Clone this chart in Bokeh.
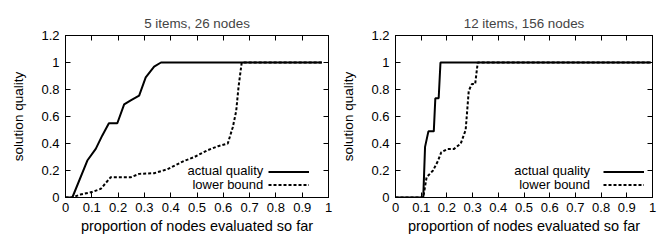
from bokeh.plotting import figure
from bokeh.layouts import row
from bokeh.models import (Range1d, FixedTicker, LinearAxis, Legend, LegendItem, Label)
from bokeh.embed import file_html
from bokeh.resources import INLINE

# ---- data ----
titles = ["5 items, 26 nodes", "12 items, 156 nodes"]

left_actual_x = [0, 0.026, 0.083, 0.115, 0.14, 0.165, 0.197, 0.223, 0.248, 0.28, 0.305, 0.337, 0.363, 0.975]
left_actual_y = [0, 0, 0.274, 0.36, 0.46, 0.55, 0.55, 0.69, 0.72, 0.755, 0.89, 0.97, 1.0, 1.0]

left_lower_x = [0, 0.026, 0.057, 0.10, 0.134, 0.172, 0.248, 0.28, 0.337, 0.388, 0.45, 0.49, 0.54,
                0.58, 0.617, 0.636, 0.649, 0.658, 0.67, 0.975]
left_lower_y = [0, 0, 0.022, 0.04, 0.064, 0.15, 0.15, 0.175, 0.18, 0.21, 0.27, 0.30, 0.35,
                0.38, 0.40, 0.52, 0.64, 0.82, 1.0, 1.0]

right_actual_x = [0, 0.108, 0.115, 0.128, 0.149, 0.155, 0.168, 0.175, 0.994]
right_actual_y = [0, 0, 0.375, 0.49, 0.49, 0.735, 0.735, 1.0, 1.0]

right_lower_x = [0, 0.108, 0.121, 0.146, 0.165, 0.178, 0.203, 0.228, 0.254, 0.273, 0.285,
                 0.297, 0.31, 0.32, 0.994]
right_lower_y = [0, 0, 0.15, 0.2, 0.27, 0.335, 0.36, 0.36, 0.40, 0.50, 0.79, 0.84, 0.84, 1.0, 1.0]

x_ticks = [0, 0.1, 0.2, 0.3, 0.4, 0.5, 0.6, 0.7, 0.8, 0.9, 1.0]
x_tick_labels = ["0", "0.1", "0.2", "0.3", "0.4", "0.5", "0.6", "0.7", "0.8", "0.9", "1"]
y_ticks = [0, 0.2, 0.4, 0.6, 0.8, 1.0, 1.2]
y_tick_labels = ["0", "0.2", "0.4", "0.6", "0.8", "1", "1.2"]
series_names = ["actual quality", "lower bound"]

FONT = "Liberation Sans"


def style_axis(ax, ticks, labels, show_labels=True):
    ax.ticker = FixedTicker(ticks=ticks)
    ax.minor_tick_line_color = None
    ax.major_tick_in = 5
    ax.major_tick_out = 0
    ax.major_tick_line_color = "black"
    ax.axis_line_color = "black"
    ax.major_label_text_font = FONT
    ax.major_label_text_color = "black"
    if show_labels:
        ax.major_label_text_font_size = "13px"
        ax.major_label_overrides = {t: l for t, l in zip(ticks, labels)}
        ax.major_label_standoff = 5
    else:
        ax.major_label_text_font_size = "1px"
        ax.major_label_overrides = {t: "" for t in ticks}
        ax.major_label_standoff = 0


def make_plot(title, ax_x, ax_y, lb_x, lb_y, width, bl, br, leg_x, leg_text_x):
    p = figure(width=width, height=237, output_backend="svg", toolbar_location=None,
               x_range=Range1d(0, 1), y_range=Range1d(0, 1.2),
               min_border_left=bl, min_border_right=br, min_border_top=35, min_border_bottom=40)
    p.title.text = title
    p.title.align = "center"
    p.title.vertical_align = "middle"
    p.title.text_font = FONT
    p.title.text_font_size = "13.4px"
    p.title.text_font_style = "normal"
    p.title.offset = 0
    p.title.standoff = 8
    p.grid.visible = False
    p.outline_line_color = "black"
    p.outline_line_alpha = 1
    p.background_fill_color = "white"
    p.border_fill_color = "white"

    style_axis(p.xaxis[0], x_ticks, x_tick_labels)
    style_axis(p.yaxis[0], y_ticks, y_tick_labels)
    p.xaxis[0].axis_label = "proportion of nodes evaluated so far"
    p.yaxis[0].axis_label = "solution quality"
    for ax in (p.xaxis[0], p.yaxis[0]):
        ax.axis_label_text_font = FONT
        ax.axis_label_text_font_style = "normal"
        ax.axis_label_text_color = "black"
    p.xaxis[0].axis_label_standoff = 3
    p.yaxis[0].axis_label_standoff = 12
    p.yaxis[0].major_label_standoff = 6
    p.xaxis[0].axis_label_text_font_size = "14.5px"
    p.yaxis[0].axis_label_text_font_size = "13.5px"

    top = LinearAxis()
    style_axis(top, x_ticks, x_tick_labels, show_labels=False)
    p.add_layout(top, "above")
    right = LinearAxis()
    style_axis(right, y_ticks, y_tick_labels, show_labels=False)
    p.add_layout(right, "right")

    r1 = p.line(ax_x, ax_y, line_color="black", line_width=2)
    r2 = p.line(lb_x, lb_y, line_color="black", line_width=2, line_dash="3 2")

    leg = Legend(items=[LegendItem(label=" ", renderers=[r1]), LegendItem(label=" ", renderers=[r2])],
                 location=(leg_x, 6), background_fill_alpha=0, border_line_color=None,
                 padding=0, margin=0, spacing=0, glyph_width=41, glyph_height=13,
                 label_width=0, label_height=13, label_standoff=0,
                 label_text_font_size="8px")
    p.add_layout(leg, "center")

    for name, yv in zip(series_names, [0.2, 0.096]):
        p.add_layout(Label(x=leg_text_x, y=yv, text=name, text_align="right", text_baseline="middle",
                           text_font=FONT, text_font_size="13px", text_color="black"))
    return p


p1 = make_plot(titles[0], left_actual_x, left_actual_y, left_lower_x, left_lower_y,
               338, 65, 10, 203, 0.752)
p2 = make_plot(titles[1], right_actual_x, right_actual_y, right_lower_x, right_lower_y,
               319, 50, 5, 208, 0.757)

layout = row(p1, p2)
open("out.html", "w").write(file_html(layout, INLINE))
